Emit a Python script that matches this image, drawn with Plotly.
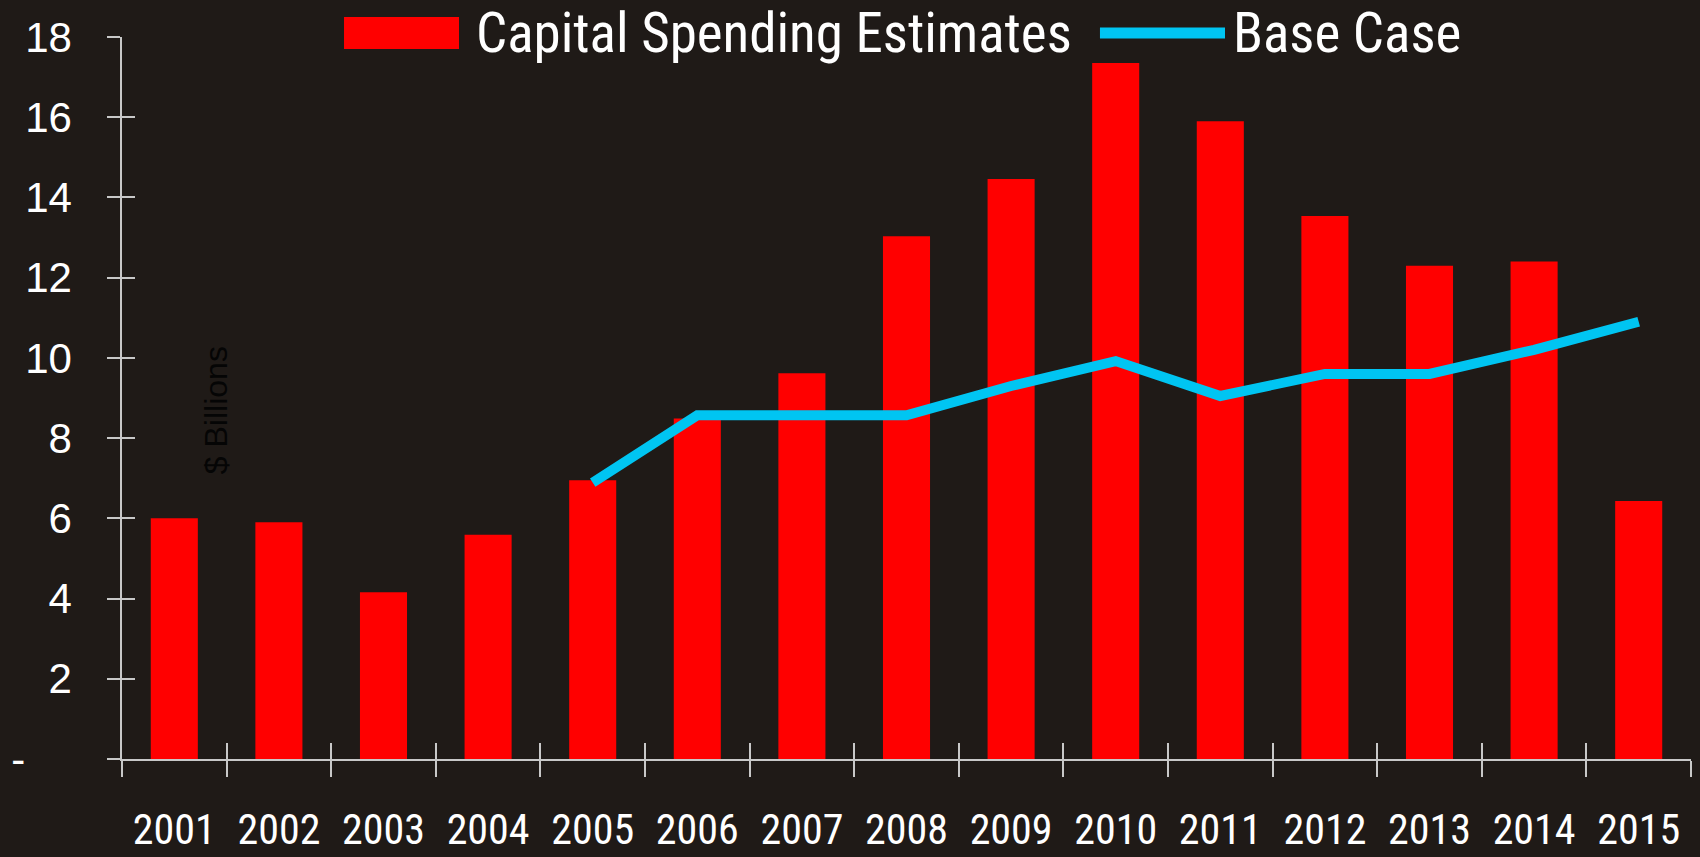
import plotly.graph_objects as go

years = ["2001", "2002", "2003", "2004", "2005", "2006", "2007", "2008",
         "2009", "2010", "2011", "2012", "2013", "2014", "2015"]
capital_spending = [6.0, 5.9, 4.16, 5.59, 6.95, 8.49, 9.62, 13.03,
                    14.46, 17.35, 15.9, 13.54, 12.3, 12.4, 6.43]
base_years = ["2005", "2006", "2007", "2008", "2009", "2010",
              "2011", "2012", "2013", "2014", "2015"]
base_case = [6.89, 8.57, 8.57, 8.57, 9.3, 9.92, 9.05, 9.6, 9.6, 10.2, 10.9]
y_tickvals = [0, 2, 4, 6, 8, 10, 12, 14, 16, 18]
y_ticktext = ["-" + "\u00a0" * 4, "2", "4", "6", "8", "10", "12", "14", "16", "18"]

BG = "#1F1A17"
RED = "#FF0000"
CYAN = "#00C5F2"
AXIS = "#C8C8C8"
NARROW = "Liberation Sans Narrow, Arial Narrow, Roboto Condensed, sans-serif"
ARIAL = "Liberation Sans, Arial, sans-serif"

fig = go.Figure()
fig.add_trace(go.Bar(x=years, y=capital_spending, marker_color=RED,
                     marker_line_width=0, name="Capital Spending Estimates"))
fig.add_trace(go.Scatter(x=base_years, y=base_case, mode="lines",
                         line=dict(color=CYAN, width=10), name="Base Case"))
# invisible helper trace for the overlay axes (inside ticks)
fig.add_trace(go.Scatter(x=years, y=capital_spending, xaxis="x2", yaxis="y2",
                         mode="markers", marker=dict(opacity=0),
                         hoverinfo="skip", showlegend=False))

fig.update_layout(
    width=1700, height=857,
    paper_bgcolor=BG, plot_bgcolor=BG,
    margin=dict(l=122, r=9, t=37, b=98, autoexpand=False),
    showlegend=False,
    bargap=0.55,
    xaxis=dict(type="category", categoryorder="array", categoryarray=years,
               range=[-0.5, 14.5], showline=True, linecolor=AXIS, linewidth=2,
               ticks="outside", tickson="boundaries", ticklen=16,
               tickcolor=AXIS, tickwidth=1.5, showgrid=False, zeroline=False,
               tickfont=dict(family=NARROW, size=42, color="white"),
               ticklabelstandoff=33, automargin=False),
    yaxis=dict(range=[0, 18], tickvals=y_tickvals, ticktext=y_ticktext,
               showline=True, linecolor=AXIS, linewidth=1.5,
               ticks="outside", ticklen=13, tickcolor=AXIS, tickwidth=1.5,
               showgrid=False, zeroline=False,
               tickfont=dict(family=ARIAL, size=42, color="white"),
               ticklabelstandoff=27, automargin=False),
    xaxis2=dict(type="category", categoryorder="array", categoryarray=years,
                range=[-0.5, 14.5], overlaying="x", anchor="y2",
                ticks="inside", tickson="boundaries", ticklen=16,
                tickcolor=AXIS, tickwidth=1.5, showticklabels=False,
                showline=False, showgrid=False, zeroline=False, automargin=False),
    yaxis2=dict(range=[0, 18], tickvals=y_tickvals, overlaying="y", anchor="x2",
                side="left", ticks="inside", ticklen=13, tickcolor=AXIS,
                tickwidth=1.5, showticklabels=False, showline=False,
                showgrid=False, zeroline=False, automargin=False),
)

# y-axis title (dark, inside the plot)
fig.add_annotation(text="$ Billions", xref="paper", yref="paper",
                   x=0.0471, y=0.483, textangle=-90, showarrow=False,
                   font=dict(family=ARIAL, size=32, color="#050505"))

# custom legend at the top
fig.add_shape(type="rect", xref="paper", yref="paper",
              x0=0.1415, x1=0.2148, y0=0.9834, y1=1.0277,
              fillcolor=RED, line_width=0)
fig.add_annotation(text="Capital Spending Estimates", xref="paper", yref="paper",
                   x=0.2245, y=1.0055, xanchor="left", yanchor="middle",
                   showarrow=False,
                   font=dict(family=NARROW, size=55, color="white"))
fig.add_shape(type="line", xref="paper", yref="paper",
              x0=0.6233, x1=0.7030, y0=1.0055, y1=1.0055,
              line=dict(color=CYAN, width=11))
fig.add_annotation(text="Base Case", xref="paper", yref="paper",
                   x=0.7068, y=1.0055, xanchor="left", yanchor="middle",
                   showarrow=False,
                   font=dict(family=NARROW, size=55, color="white"))

fig.write_html(
    "out.html",
    config={"displayModeBar": False},
    post_script="document.body.style.margin='0';document.body.style.background='" + BG + "';",
)
